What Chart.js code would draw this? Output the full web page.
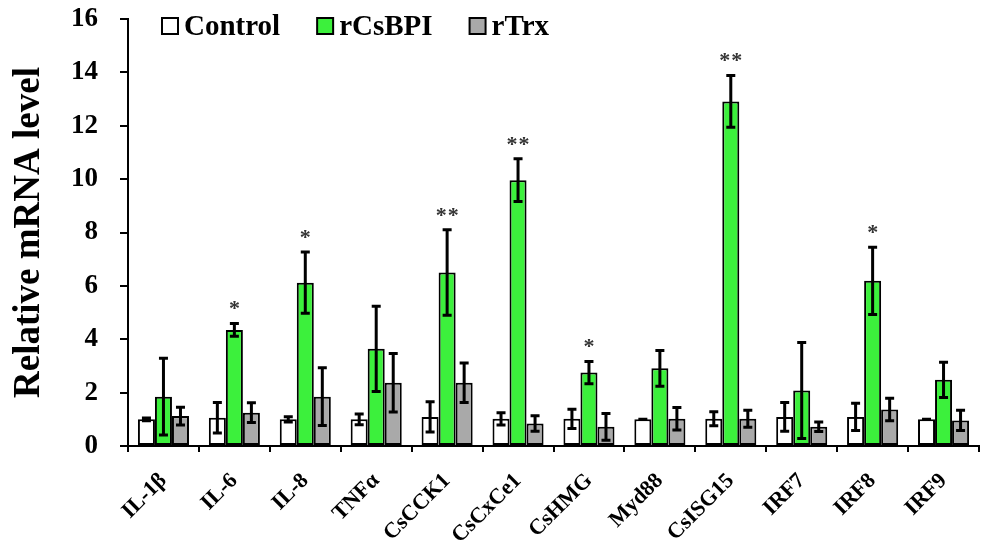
<!DOCTYPE html>
<html>
<head>
<meta charset="utf-8">
<script src="https://cdn.jsdelivr.net/npm/chart.js@4.4.1/dist/chart.umd.min.js"></script>
<style>
  body { margin: 0; background: #fff; }
  #wrap { width: 987px; height: 542px; position: relative; }
</style>
</head>
<body>
<div id="wrap"><canvas id="chart"></canvas></div>
<script>
// genes on the x axis
const genes = ['IL-1β', 'IL-6', 'IL-8', 'TNFα', 'CsCCK1', 'CsCxCe1', 'CsHMG', 'Myd88', 'CsISG15', 'IRF7', 'IRF8', 'IRF9'];

// relative mRNA level (mean) and error (SD) per group
const control = [1.00, 1.06, 1.00, 1.00, 1.09, 1.02, 1.02, 1.00, 1.02, 1.09, 1.09, 1.00];
const controlErr = [0.05, 0.57, 0.10, 0.20, 0.57, 0.23, 0.36, 0.00, 0.26, 0.54, 0.51, 0.00];
const rCsBPI = [1.85, 4.35, 6.12, 3.64, 6.50, 9.96, 2.75, 2.91, 12.91, 2.08, 6.19, 2.48];
const rCsBPIErr = [1.44, 0.24, 1.15, 1.60, 1.60, 0.80, 0.42, 0.67, 0.97, 1.80, 1.26, 0.66];
const rTrx = [1.12, 1.25, 1.85, 2.37, 2.37, 0.84, 0.72, 1.02, 1.02, 0.72, 1.37, 0.96];
const rTrxErr = [0.33, 0.37, 1.08, 1.10, 0.74, 0.29, 0.50, 0.42, 0.32, 0.18, 0.42, 0.38];

// significance marks above the rCsBPI bars
const stars = ['', '*', '*', '', '**', '**', '*', '', '**', '', '*', ''];

const serif = "'Liberation Serif', 'Times New Roman', serif";

// error bars with caps, drawn on top of each bar
const errorBars = {
  id: 'errorBars',
  afterDatasetsDraw(chart) {
    const ctx = chart.ctx;
    const y = chart.scales.y;
    ctx.save();
    ctx.strokeStyle = '#000';
    ctx.lineWidth = 3;
    chart.data.datasets.forEach((ds, d) => {
      const meta = chart.getDatasetMeta(d);
      meta.data.forEach((bar, i) => {
        const v = ds.data[i];
        const e = ds.errors[i];
        const top = y.getPixelForValue(v + e);
        const bot = y.getPixelForValue(v - e);
        const cap = 4.5;
        ctx.beginPath();
        ctx.moveTo(bar.x, top);
        ctx.lineTo(bar.x, bot);
        ctx.moveTo(bar.x - cap, top);
        ctx.lineTo(bar.x + cap, top);
        ctx.moveTo(bar.x - cap, bot);
        ctx.lineTo(bar.x + cap, bot);
        ctx.stroke();
      });
    });
    // stars over the rCsBPI bars
    const meta = chart.getDatasetMeta(1);
    ctx.fillStyle = '#333';
    ctx.font = 'bold 22px ' + serif;
    ctx.textAlign = 'center';
    ctx.textBaseline = 'middle';
    stars.forEach((s, i) => {
      if (!s) return;
      const top = y.getPixelForValue(rCsBPI[i] + rCsBPIErr[i]);
      const bx = meta.data[i].x;
      if (s.length === 1) {
        ctx.fillText('*', bx, top - 14);
      } else {
        ctx.fillText('*', bx - 6, top - 14);
        ctx.fillText('*', bx + 6, top - 14);
      }
    });
    ctx.restore();
  }
};

// legend inside the plot, top left
const boxLegend = {
  id: 'boxLegend',
  afterDraw(chart) {
    const ctx = chart.ctx;
    ctx.save();
    ctx.font = 'bold 29px ' + serif;
    ctx.textBaseline = 'middle';
    ctx.textAlign = 'left';
    let x = 162;
    chart.data.datasets.forEach(ds => {
      ctx.fillStyle = ds.backgroundColor;
      ctx.fillRect(x, 18, 16, 16);
      ctx.strokeStyle = '#000';
      ctx.lineWidth = 2;
      ctx.strokeRect(x, 18, 16, 16);
      ctx.fillStyle = '#000';
      ctx.fillText(ds.label, x + 22, 28);
      x += 22 + ctx.measureText(ds.label).width + 37;
    });
    ctx.restore();
  }
};

const barStyle = { borderColor: '#000', borderWidth: 2, borderSkipped: false };

new Chart(document.getElementById('chart'), {
  type: 'bar',
  data: {
    labels: genes,
    datasets: [
      { label: 'Control', data: control, errors: controlErr, backgroundColor: '#ffffff', ...barStyle },
      { label: 'rCsBPI', data: rCsBPI, errors: rCsBPIErr, backgroundColor: '#3cf03c', ...barStyle },
      { label: 'rTrx', data: rTrx, errors: rTrxErr, backgroundColor: '#a9a9a9', ...barStyle }
    ]
  },
  options: {
    responsive: true,
    maintainAspectRatio: false,
    animation: false,
    layout: { padding: { top: 19, right: 8, left: 0, bottom: 0 } },
    datasets: { bar: { categoryPercentage: 0.72, barPercentage: 1.0 } },
    plugins: {
      legend: { display: false },
      tooltip: { enabled: false }
    },
    scales: {
      x: {
        afterFit: scale => { scale.height = 96; },
        grid: { display: true, offset: true, drawOnChartArea: false, color: '#000', lineWidth: 2, tickLength: 6 },
        border: { display: true, color: '#000', width: 2 },
        ticks: {
          autoSkip: false,
          minRotation: 45,
          maxRotation: 45,
          padding: 16,
          color: '#000',
          font: { family: serif, size: 22, weight: 'bold' }
        }
      },
      y: {
        min: 0,
        max: 16,
        afterFit: scale => {
          scale.width = 128;
          scale.paddingTop = 0;
          scale.paddingBottom = 0;
        },
        grid: { display: true, drawOnChartArea: false, color: '#000', lineWidth: 2, tickLength: 8 },
        border: { display: true, color: '#000', width: 2 },
        ticks: {
          stepSize: 2,
          padding: 22,
          color: '#000',
          font: { family: serif, size: 27, weight: 'bold' }
        },
        title: {
          display: true,
          text: 'Relative mRNA level',
          color: '#000',
          padding: { top: 7, bottom: 0 },
          font: { family: serif, size: 37, weight: 'bold' }
        }
      }
    }
  },
  plugins: [errorBars, boxLegend]
});
</script>
</body>
</html>
